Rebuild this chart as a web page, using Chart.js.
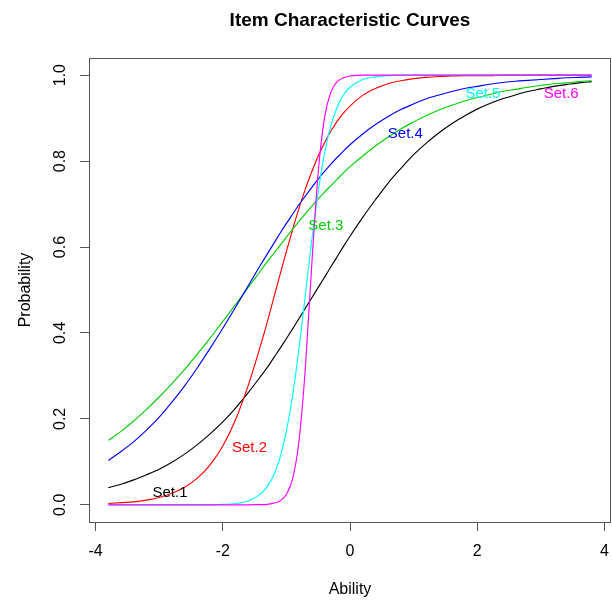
<!DOCTYPE html>
<html>
<head>
<meta charset="utf-8">
<title>Item Characteristic Curves</title>
<script src="https://cdn.jsdelivr.net/npm/chart.js@4/dist/chart.umd.min.js"></script>
<style>
  html, body { margin: 0; padding: 0; background: #fff; }
  canvas { display: block; }
</style>
</head>
<body>
<canvas id="icc" width="612" height="602"></canvas>
<script>
const ability = [-3.8, -3.6, -3.4, -3.2, -3.0, -2.8, -2.6, -2.4, -2.2, -2.0, -1.8, -1.6, -1.4,
                 -1.3, -1.2, -1.1, -1.0, -0.9, -0.8, -0.7, -0.6, -0.5, -0.4, -0.3, -0.2, -0.1, 0.0,
                 0.2, 0.4, 0.6, 0.8, 1.0, 1.2, 1.4, 1.6, 1.8, 2.0, 2.2, 2.4, 2.6, 2.8, 3.0, 3.2, 3.4, 3.6, 3.8];

// Probability for each item at those abilities.
const set1 = [0.040, 0.048, 0.058, 0.070, 0.083, 0.099, 0.118, 0.140, 0.165, 0.193, 0.225, 0.261, 0.300,
              0.320, 0.342, 0.364, 0.387, 0.410, 0.434, 0.458, 0.482, 0.506, 0.530, 0.554, 0.578, 0.602, 0.625,
              0.669, 0.710, 0.749, 0.783, 0.815, 0.842, 0.866, 0.887, 0.905, 0.921, 0.934, 0.945, 0.954, 0.962, 0.968, 0.974, 0.978, 0.982, 0.985];
const set2 = [0.003, 0.005, 0.007, 0.011, 0.017, 0.027, 0.041, 0.062, 0.093, 0.137, 0.198, 0.278, 0.374,
              0.426, 0.481, 0.536, 0.590, 0.642, 0.691, 0.736, 0.776, 0.812, 0.843, 0.870, 0.893, 0.912, 0.928,
              0.953, 0.969, 0.980, 0.987, 0.992, 0.995, 0.997, 0.998, 0.999, 0.999, 0.999, 1.000, 1.000, 1.000, 1.000, 1.000, 1.000, 1.000, 1.000];
const set3 = [0.150, 0.171, 0.195, 0.222, 0.251, 0.282, 0.315, 0.351, 0.388, 0.427, 0.466, 0.506, 0.546,
              0.566, 0.585, 0.604, 0.623, 0.642, 0.660, 0.678, 0.695, 0.712, 0.728, 0.743, 0.758, 0.773, 0.787,
              0.812, 0.835, 0.856, 0.875, 0.891, 0.906, 0.919, 0.930, 0.940, 0.948, 0.955, 0.962, 0.967, 0.972, 0.976, 0.980, 0.982, 0.985, 0.987];
const set4 = [0.103, 0.124, 0.147, 0.174, 0.204, 0.239, 0.277, 0.319, 0.364, 0.411, 0.460, 0.510, 0.560,
              0.584, 0.608, 0.632, 0.655, 0.677, 0.699, 0.719, 0.739, 0.758, 0.776, 0.793, 0.809, 0.824, 0.838,
              0.863, 0.885, 0.904, 0.920, 0.933, 0.945, 0.954, 0.962, 0.969, 0.974, 0.979, 0.983, 0.986, 0.988, 0.990, 0.992, 0.994, 0.995, 0.996];
const set5 = [0.000, 0.000, 0.000, 0.000, 0.000, 0.000, 0.000, 0.000, 0.000, 0.001, 0.003, 0.009, 0.026,
              0.043, 0.069, 0.110, 0.172, 0.257, 0.366, 0.491, 0.617, 0.729, 0.818, 0.883, 0.926, 0.955, 0.972,
              0.990, 0.996, 0.999, 1.000, 1.000, 1.000, 1.000, 1.000, 1.000, 1.000, 1.000, 1.000, 1.000, 1.000, 1.000, 1.000, 1.000, 1.000, 1.000];
const set6 = [0.000, 0.000, 0.000, 0.000, 0.000, 0.000, 0.000, 0.000, 0.000, 0.000, 0.000, 0.000, 0.0005,
              0.001, 0.004, 0.009, 0.024, 0.062, 0.151, 0.323, 0.561, 0.774, 0.902, 0.961, 0.985, 0.994, 0.998,
              1.000, 1.000, 1.000, 1.000, 1.000, 1.000, 1.000, 1.000, 1.000, 1.000, 1.000, 1.000, 1.000, 1.000, 1.000, 1.000, 1.000, 1.000, 1.000];

const setNames  = ["Set.1", "Set.2", "Set.3", "Set.4", "Set.5", "Set.6"];
const setColors = ["#000000", "#ff0000", "#00cd00", "#0000ff", "#00ffff", "#ff00ff"];
// Where each curve's name sits (ability, probability).
const labelX = [-2.83, -1.58, -0.38, 0.87, 2.09, 3.32];
const labelY = [0.028, 0.133, 0.649, 0.863, 0.956, 0.956];

const xTicks = [-4, -2, 0, 2, 4];
const yTicks = [0, 0.2, 0.4, 0.6, 0.8, 1];
const yTickLabels = ["0.0", "0.2", "0.4", "0.6", "0.8", "1.0"];

const FONT = "'Liberation Sans', Arial, Helvetica, sans-serif";
Chart.defaults.font.family = FONT;

const allSets = [set1, set2, set3, set4, set5, set6];

// Box round the plot, rotated y tick labels, and the curve names.
const extras = {
    id: "extras",
    afterDatasetsDraw(chart) {
        const ctx = chart.ctx;
        const a = chart.chartArea;
        const xs = chart.scales.x, ys = chart.scales.y;
        ctx.save();
        ctx.strokeStyle = "#555";
        ctx.lineWidth = 1;
        ctx.strokeRect(a.left + 0.5, a.top + 0.5, a.right - a.left - 1, a.bottom - a.top);

        ctx.fillStyle = "#000";
        ctx.font = "16px " + FONT;
        ctx.textAlign = "center";
        ctx.textBaseline = "middle";
        yTicks.forEach(function (v, i) {
            ctx.save();
            ctx.translate(a.left - 28, ys.getPixelForValue(v));
            ctx.rotate(-Math.PI / 2);
            ctx.fillText(yTickLabels[i], 0, 0);
            ctx.restore();
        });

        ctx.font = "15px " + FONT;
        setNames.forEach(function (name, i) {
            ctx.fillStyle = setColors[i];
            ctx.fillText(name, xs.getPixelForValue(labelX[i]), ys.getPixelForValue(labelY[i]));
        });
        ctx.restore();
    }
};

new Chart(document.getElementById("icc"), {
    type: "line",
    data: {
        datasets: allSets.map(function (vals, i) {
            return {
                label: setNames[i],
                data: ability.map(function (x, j) { return { x: x, y: vals[j] }; }),
                borderColor: setColors[i],
                borderWidth: 1.15,
                pointRadius: 0,
                fill: false,
                cubicInterpolationMode: "monotone",
                order: 5 - i // later sets on top, as in R
            };
        })
    },
    options: {
        responsive: false,
        animation: false,
        devicePixelRatio: 1,
        layout: { padding: { left: 0, right: 1, top: 0, bottom: 0 } },
        plugins: {
            legend: { display: false },
            tooltip: { enabled: false },
            title: {
                display: true,
                fullSize: false, // centre over the plot area, like R
                text: "Item Characteristic Curves",
                color: "#000",
                font: { size: 19, weight: "bold", lineHeight: 1.2 },
                padding: { top: 9.5, bottom: 25.7 }
            }
        },
        scales: {
            x: {
                type: "linear",
                min: -4.104,
                max: 4.104,
                afterBuildTicks: function (s) { s.ticks = xTicks.map(function (v) { return { value: v }; }); },
                afterFit: function (s) { s.height = 80; s.paddingLeft = 0; s.paddingRight = 0; },
                grid: { drawOnChartArea: false, drawTicks: true, tickLength: 9, color: "#555" },
                border: { display: false },
                ticks: {
                    padding: 11, color: "#000", font: { size: 16 }, maxRotation: 0, autoSkip: false,
                    callback: function (v) { return String(v); }
                },
                title: { display: true, text: "Ability", color: "#000", font: { size: 16 }, padding: { top: 0, bottom: 3 } }
            },
            y: {
                type: "linear",
                min: -0.04,
                max: 1.04,
                afterBuildTicks: function (s) { s.ticks = yTicks.map(function (v) { return { value: v }; }); },
                afterFit: function (s) { s.width = 89; },
                grid: { drawOnChartArea: false, drawTicks: true, tickLength: 9, color: "#555" },
                border: { display: false },
                ticks: { display: false },
                title: { display: true, text: "Probability", color: "#000", font: { size: 16 }, padding: { top: 16, bottom: 0 } }
            }
        }
    },
    plugins: [extras]
});
</script>
</body>
</html>
